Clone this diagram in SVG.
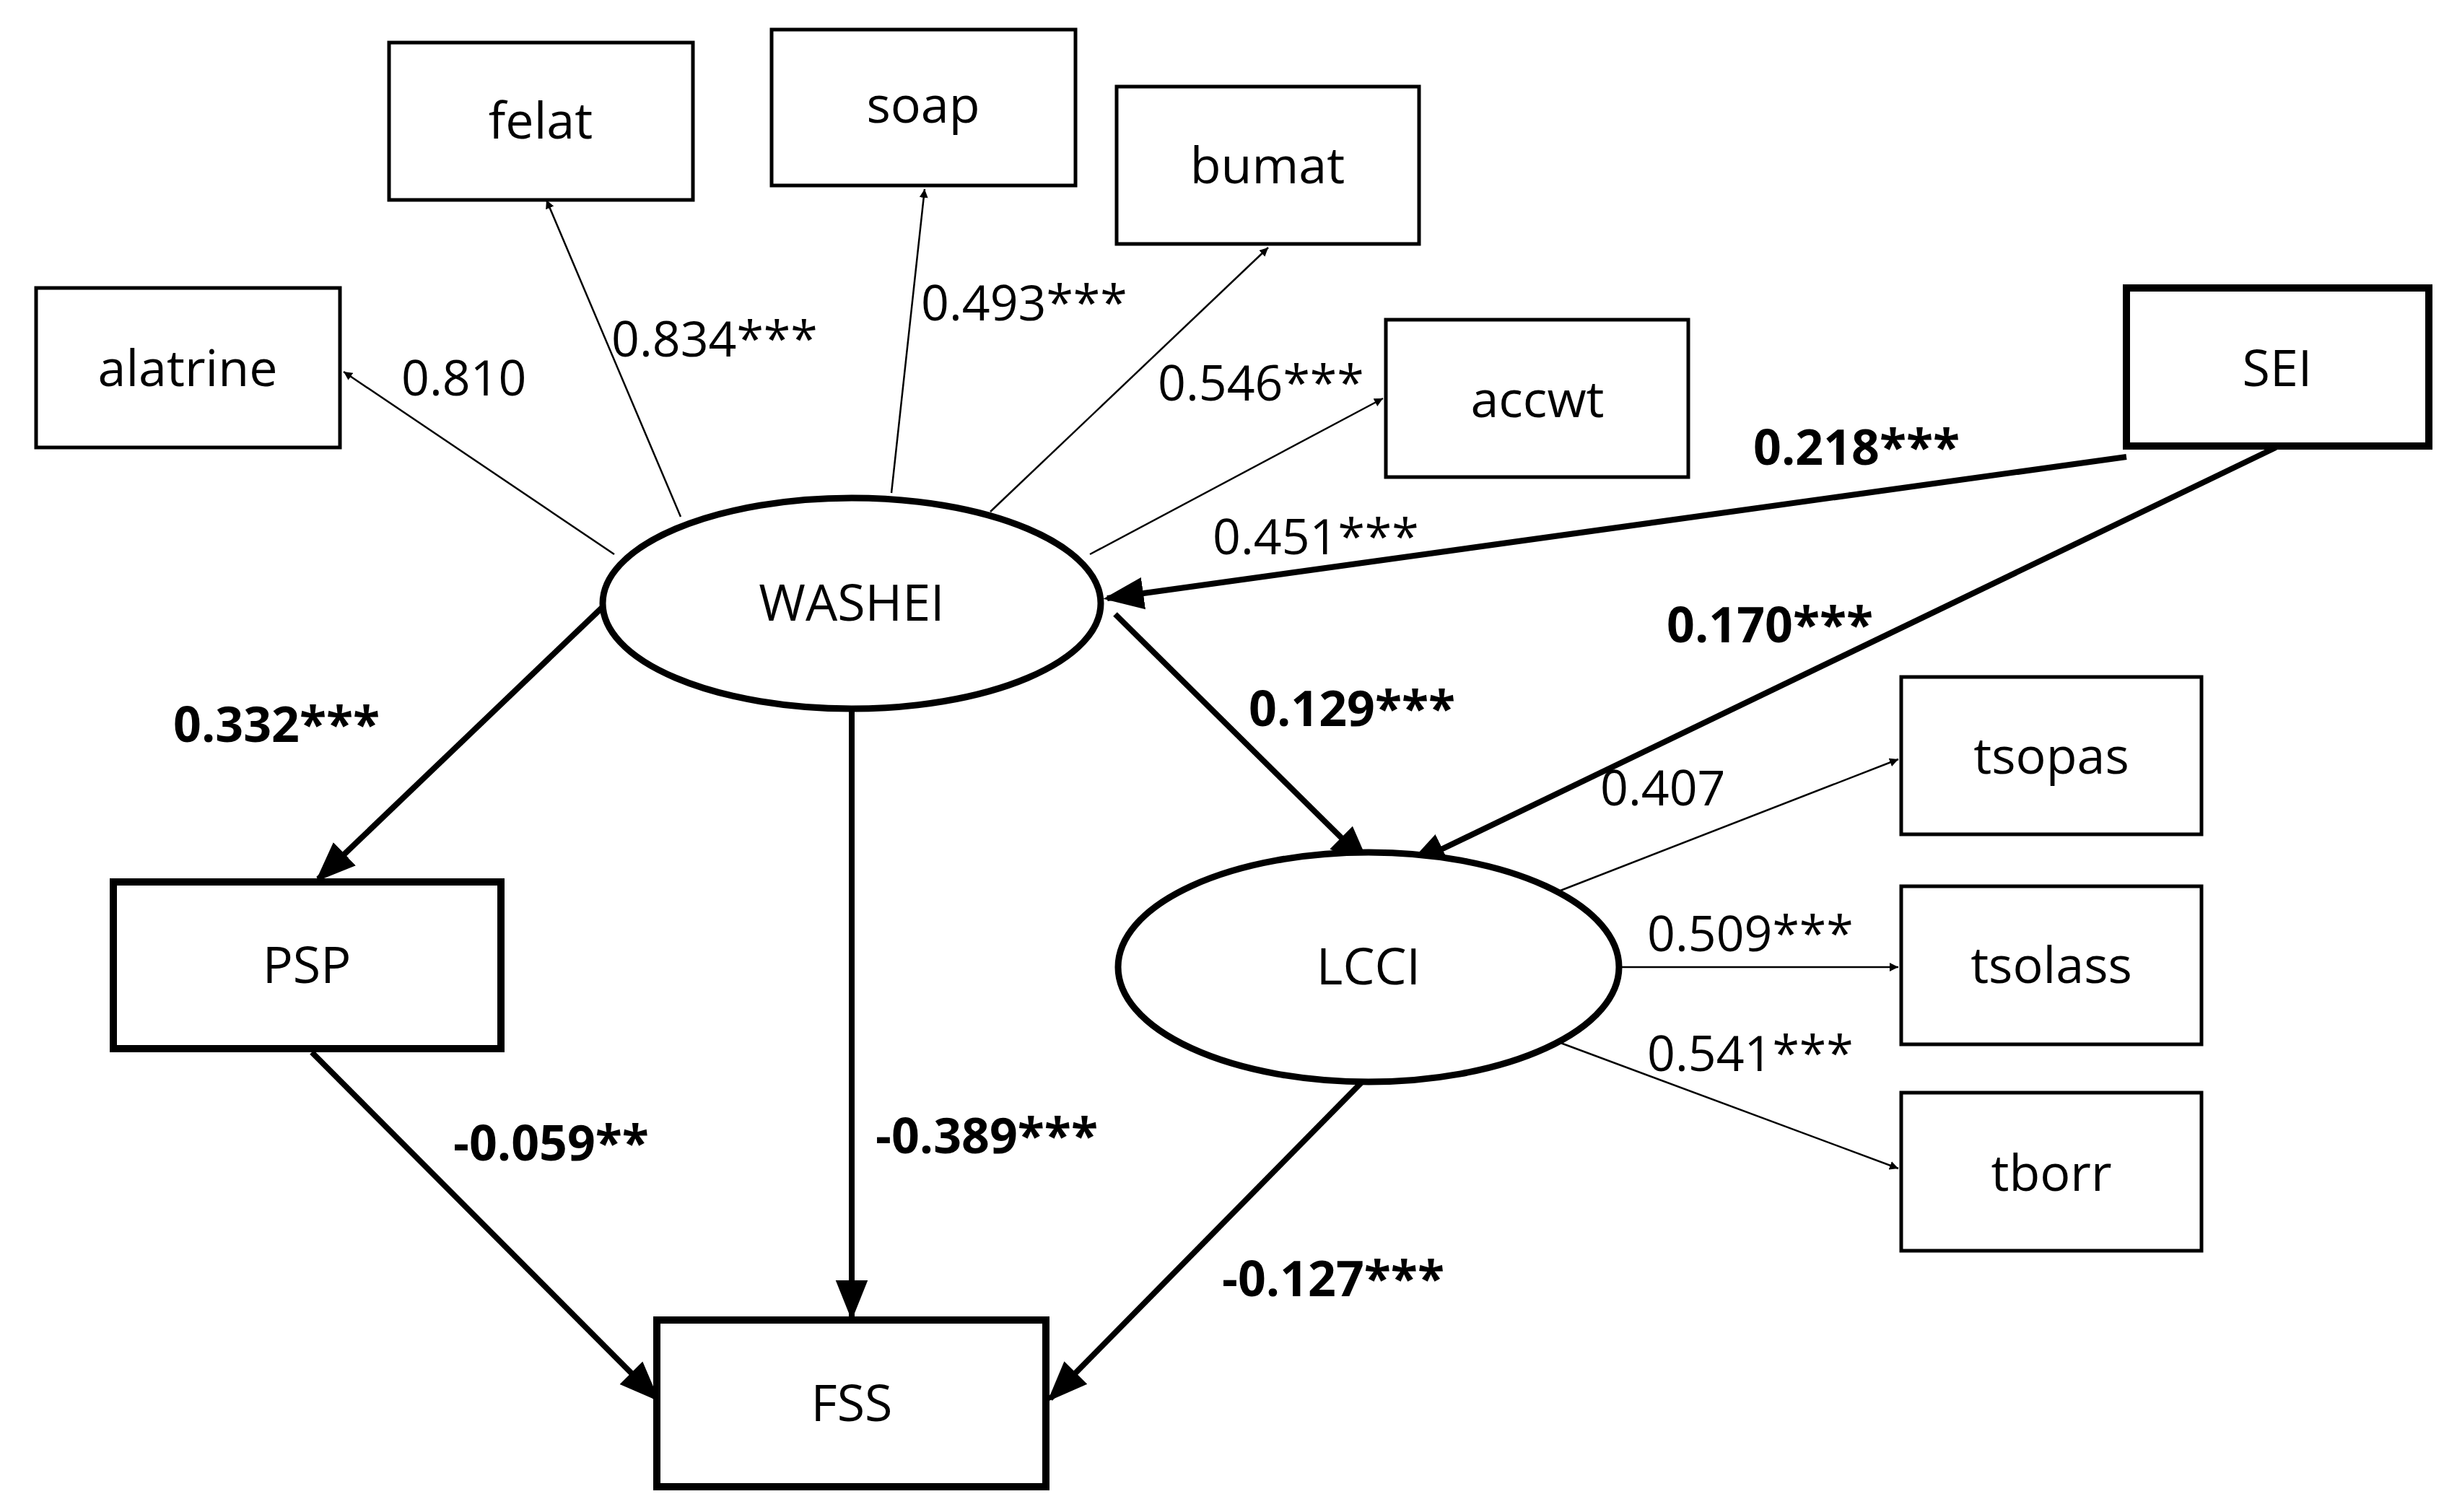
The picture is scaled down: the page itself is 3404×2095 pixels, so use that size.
<svg xmlns="http://www.w3.org/2000/svg" width="3404" height="2095" viewBox="0 0 3404 2095">
<defs>
<style>
.box{fill:#fff;stroke:#000;stroke-width:5}
.tbox{fill:#fff;stroke:#000;stroke-width:10}
.ell{fill:#fff;stroke:#000;stroke-width:9}
.nt{font-family:"Open Sans","Liberation Sans",sans-serif;font-size:70px;text-anchor:middle;fill:#000}
.lb{font-family:"Open Sans","Liberation Sans",sans-serif;font-size:68px;fill:#000}
.bl{font-weight:bold}
.thin{stroke:#000;stroke-width:2.5;fill:none;marker-end:url(#a)}
.thick{stroke:#000;stroke-width:8;fill:none;marker-end:url(#b)}
</style>
<marker id="a" viewBox="0 0 10 10" refX="10" refY="5" markerWidth="12" markerHeight="12" markerUnits="userSpaceOnUse" orient="auto"><path d="M0,0L10,5L0,10z"/></marker>
<marker id="b" viewBox="0 0 10 10" refX="9" refY="5" markerWidth="7" markerHeight="7" orient="auto"><path d="M0,1L10,5L0,9z"/></marker>
</defs>
<rect width="3404" height="2095" fill="#fff"/>
<g id="connectors">
<line class="thin" x1="851" y1="768" x2="476" y2="515"/>
<line class="thin" x1="943" y1="716" x2="757" y2="277"/>
<line class="thin" x1="1235" y1="683" x2="1281" y2="262"/>
<line class="thin" x1="1372" y1="709" x2="1757" y2="343"/>
<line class="thin" x1="1510" y1="768" x2="1916" y2="552"/>
<line class="thick" x1="2946" y1="633" x2="1534" y2="829"/>
<line class="thick" x1="3153" y1="620" x2="1953" y2="1198"/>
<line class="thick" x1="836" y1="840" x2="441" y2="1218"/>
<line class="thick" x1="1180" y1="982" x2="1180" y2="1824"/>
<line class="thick" x1="1545" y1="851" x2="1894" y2="1196"/>
<line class="thick" x1="432" y1="1458" x2="910" y2="1938"/>
<line class="thick" x1="1896" y1="1490" x2="1455" y2="1938"/>
<line class="thin" x1="2154" y1="1237" x2="2630" y2="1052"/>
<line class="thin" x1="2247" y1="1340" x2="2630" y2="1340"/>
<line class="thin" x1="2154" y1="1442" x2="2630" y2="1619"/>
</g>
<g id="felat"><rect class="box" x="539" y="59" width="421" height="218"/><text class="nt" x="749" y="192">felat</text></g>
<g id="soap"><rect class="box" x="1069" y="41" width="421" height="216"/><text class="nt" x="1279" y="170">soap</text></g>
<g id="bumat"><rect class="box" x="1547" y="120" width="419" height="218"/><text class="nt" x="1756" y="254">bumat</text></g>
<g id="alatrine"><rect class="box" x="50" y="399" width="421" height="221"/><text class="nt" x="260" y="535">alatrine</text></g>
<g id="accwt"><rect class="box" x="1920" y="443" width="419" height="218"/><text class="nt" x="2130" y="578">accwt</text></g>
<g id="SEI"><rect class="tbox" x="2946" y="399" width="419" height="219"/><text class="nt" x="3155" y="535">SEI</text></g>
<g id="WASHEI"><ellipse class="ell" cx="1180" cy="836" rx="345" ry="146"/><text class="nt" x="1180" y="860">WASHEI</text></g>
<g id="LCCI"><ellipse class="ell" cx="1896" cy="1340" rx="347" ry="159"/><text class="nt" x="1896" y="1364">LCCI</text></g>
<g id="PSP"><rect class="tbox" x="157" y="1222" width="537" height="231"/><text class="nt" x="425" y="1362">PSP</text></g>
<g id="FSS"><rect class="tbox" x="910" y="1829" width="539" height="231"/><text class="nt" x="1180" y="1969">FSS</text></g>
<g id="tsopas"><rect class="box" x="2634" y="938" width="416" height="218"/><text class="nt" x="2842" y="1072">tsopas</text></g>
<g id="tsolass"><rect class="box" x="2634" y="1228" width="416" height="219"/><text class="nt" x="2842" y="1362">tsolass</text></g>
<g id="tborr"><rect class="box" x="2634" y="1514" width="416" height="219"/><text class="nt" x="2842" y="1650">tborr</text></g>
<g id="labels">
<text class="lb" x="556" y="548">0.810</text>
<text class="lb" x="847" y="494">0.834***</text>
<text class="lb" x="1276" y="444">0.493***</text>
<text class="lb" x="1604" y="555">0.546***</text>
<text class="lb" x="1680" y="768">0.451***</text>
<text class="lb bl" x="2429" y="644">0.218***</text>
<text class="lb bl" x="2309" y="890">0.170***</text>
<text class="lb bl" x="1730" y="1006">0.129***</text>
<text class="lb bl" x="240" y="1028">0.332***</text>
<text class="lb" x="2217" y="1116">0.407</text>
<text class="lb" x="2282" y="1318">0.509***</text>
<text class="lb" x="2282" y="1484">0.541***</text>
<text class="lb bl" x="628" y="1608">-0.059**</text>
<text class="lb bl" x="1213" y="1598">-0.389***</text>
<text class="lb bl" x="1693" y="1796">-0.127***</text>
</g>
</svg>
